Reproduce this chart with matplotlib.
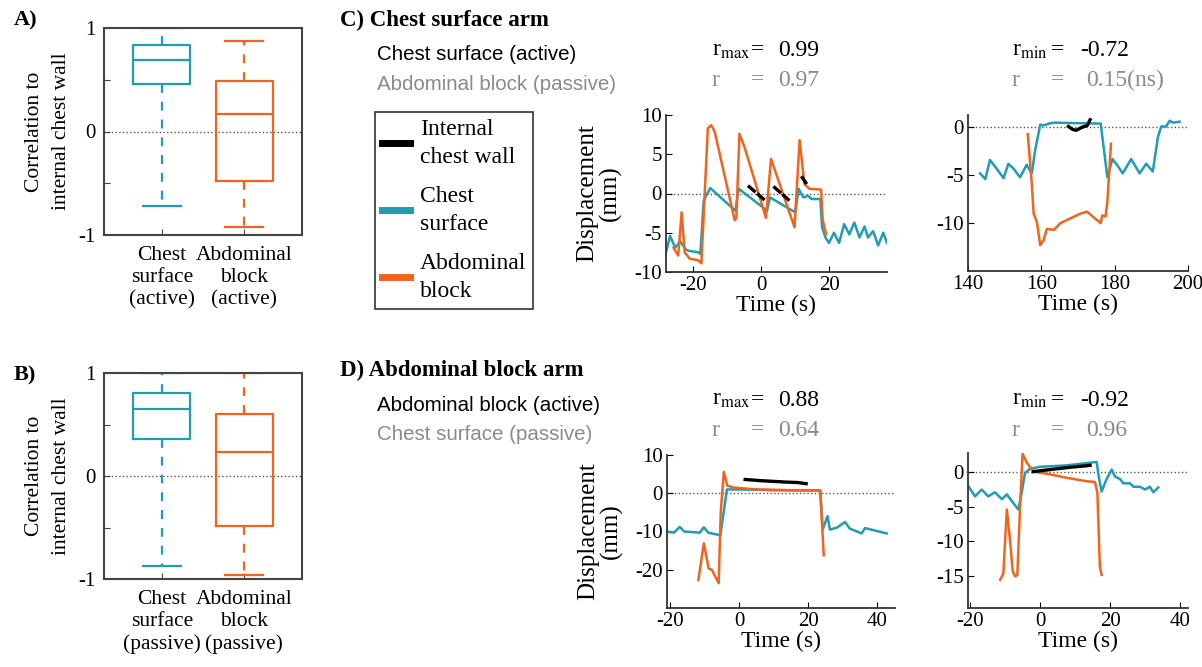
import numpy as np
import matplotlib
matplotlib.use("Agg")
import matplotlib.pyplot as plt
from matplotlib.lines import Line2D

plt.rcParams['font.family'] = ['Liberation Serif', 'DejaVu Serif']
plt.rcParams['mathtext.fontset'] = 'stix'
plt.rcParams['axes.unicode_minus'] = False

TEAL = '#1f9db2'
ORANGE = '#f2641e'
GRAY = '#8a8a8a'

# ---- box plot data (A: active, B: passive) ----
box_labels_a = ["Chest\nsurface\n(active)", "Abdominal\nblock\n(active)"]
box_labels_b = ["Chest\nsurface\n(passive)", "Abdominal\nblock\n(passive)"]
a_whislo = [-0.72, -0.92]
a_q1 = [0.46, -0.48]
a_med = [0.69, 0.165]
a_q3 = [0.84, 0.49]
a_whishi = [1.0, 0.87]
b_whislo = [-0.87, -0.96]
b_q1 = [0.36, -0.49]
b_med = [0.65, 0.23]
b_q3 = [0.81, 0.60]
b_whishi = [1.0, 1.0]

# ---- C) chest surface arm, left trace ----
c1_cyan_t = [-28, -26.8, -25.3, -23.8, -22.3, -21.3, -18.4, -17.9, -16.9, -15.0, -8.1, -7.6, -6.6,
             1.2, 1.7, 2.6, 10.0, 11.0, 12.4, 13.8, 14.8, 17.4, 17.9, 18.9, 19.9, 21.4, 22.9, 24.4,
             25.9, 27.4, 28.9, 30.4, 31.4, 32.9, 34.4, 35.9, 37.0]
c1_cyan_v = [-7.5, -5.4, -6.9, -6.1, -7.1, -7.3, -7.5, -7.7, -0.9, 0.7, -2.0, -2.2, 0.6,
             -2.0, -2.2, -0.5, -2.4, 0.6, -0.5, -0.3, -0.7, -0.7, -4.3, -5.6, -6.3, -5.0, -6.3, -3.9,
             -5.2, -3.7, -5.6, -4.2, -5.6, -4.8, -6.6, -5.0, -6.3]
c1_orange_t = [-25.8, -24.4, -23.4, -22.5, -21.0, -18.6, -17.6, -15.7, -14.7, -13.7, -7.8, -7.3,
               -6.4, -4.9, 1.4, 2.9, 9.8, 11.3, 12.7, 14.2, 17.6, 18.1, 19.1]
c1_orange_v = [-6.9, -7.9, -2.4, -7.5, -8.3, -8.5, -8.9, 8.3, 8.7, 7.9, -3.4, -3.1,
               7.6, 5.9, -3.1, 4.4, -4.3, 6.8, 1.2, 0.6, 0.5, -3.4, -5.2]
c1_black_t = [[-3.9, 1.2], [3.6, 8.3], [11.8, 13.4]]
c1_black_v = [[1.0, -0.9], [0.9, -0.9], [2.2, 1.2]]

# ---- C) chest surface arm, right trace ----
c2_cyan_t = [143.3, 144.7, 146.0, 147.8, 149.7, 151.0, 152.4, 154.2, 156.0, 157.4, 158.3, 159.7,
             160.6, 162.0, 163.4, 176.2, 178.0, 179.4, 180.8, 182.2, 184.5, 186.8, 188.6, 190.4,
             191.8, 192.7, 194.0, 195.0, 195.9, 197.7]
c2_cyan_v = [-4.8, -5.4, -3.4, -4.3, -5.3, -3.8, -4.3, -5.2, -3.9, -4.8, -2.4, 0.3,
             0.2, 0.4, 0.5, 0.4, -5.2, -3.3, -4.0, -4.8, -3.3, -4.8, -3.8, -4.6,
             -1.0, 0.1, 0.1, 0.7, 0.5, 0.6]
c2_orange_t = [156.3, 157.4, 157.9, 158.8, 159.7, 160.6, 161.5, 163.4, 165.2, 167.9, 170.7, 172.5,
               174.3, 176.2, 176.6, 177.5, 178.0, 179.0]
c2_orange_v = [-0.7, -5.9, -9.0, -9.9, -12.3, -11.8, -10.6, -10.7, -10.0, -9.5, -9.0, -8.8,
               -9.4, -10.0, -9.2, -9.3, -7.8, -1.7]
c2_black_t = [167.4, 168.5, 169.5, 171.0, 172.5, 173.3]
c2_black_v = [0.1, -0.2, -0.3, 0.0, 0.2, 0.8]

# ---- D) abdominal block arm, left trace ----
d1_cyan_t = [-21.0, -19.0, -17.3, -16.0, -11.5, -10.3, -9.0, -5.5, -3.6, 0.0, 10.0, 23.5, 24.2,
             25.6, 26.3, 28.3, 30.7, 32.0, 35.5, 36.5, 40.5, 42.8]
d1_cyan_v = [-10.0, -10.3, -8.8, -10.0, -10.3, -8.9, -10.3, -11.0, 1.0, 1.0, 0.8, 0.7, -9.5,
             -6.0, -9.5, -9.0, -7.5, -9.2, -10.5, -9.1, -10.0, -10.5]
d1_orange_t = [-11.9, -10.3, -8.9, -8.0, -6.0, -5.4, -4.5, -3.5, -1.7, 5.0, 15.0, 23.5, 24.5]
d1_orange_v = [-22.7, -13.1, -19.7, -20.0, -23.5, -5.0, 5.6, 2.0, 1.5, 1.0, 0.8, 0.8, -16.2]
d1_black_t = [1.7, 6.0, 10.0, 14.0, 17.0, 19.4]
d1_black_v = [3.6, 3.3, 3.1, 2.9, 2.8, 2.5]

# ---- D) abdominal block arm, right trace ----
d2_cyan_t = [-20.5, -18.6, -16.7, -14.8, -12.9, -10.9, -9.5, -7.6, -6.2, -5.2, -4.3, -2.9, 0.0,
             7.6, 16.2, 16.7, 17.6, 19.0, 20.5, 21.4, 22.9, 23.8, 25.7, 26.7, 28.6, 30.0, 31.4,
             32.4, 33.8]
d2_cyan_v = [-2.0, -3.5, -2.5, -3.5, -2.9, -3.9, -3.2, -4.5, -5.4, -2.8, -0.1, 0.5, 0.8,
             1.0, 1.5, -0.4, -2.8, -1.0, 0.4, -0.6, -1.0, -1.6, -1.6, -2.1, -2.1, -2.5, -2.1,
             -2.9, -2.2]
d2_orange_t = [-11.4, -10.5, -9.5, -8.6, -7.8, -7.1, -6.5, -5.7, -5.0, -3.8, -1.9, 2.9, 7.6,
               13.3, 15.7, 16.4, 17.1, 17.6]
d2_orange_v = [-15.6, -14.7, -5.4, -9.8, -14.4, -15.1, -14.9, -4.9, 2.7, 1.4, 0.1, -0.3, -0.8,
               -1.3, -1.4, -3.0, -13.7, -14.9]
d2_black_t = [-1.9, 3.0, 8.0, 14.3]
d2_black_v = [0.1, 0.4, 0.7, 1.0]

W, H = 1202, 667
fig = plt.figure(figsize=(W / 100, H / 100), dpi=100)


def box(l, t, r, b):
    return [l / W, 1 - b / H, (r - l) / W, (b - t) / H]


def pt(x, y):
    return x / W, 1 - y / H


def boxpanel(rect, labels, whislo, q1, med, q3, whishi):
    ax = fig.add_axes(rect)
    stats = []
    for i in range(2):
        stats.append(dict(whislo=whislo[i], q1=q1[i], med=med[i], q3=q3[i],
                          whishi=whishi[i], fliers=[]))
    parts = ax.bxp(stats, positions=[1, 2], widths=0.69, capwidths=0.46,
                   showfliers=False, patch_artist=False)
    for i, c in enumerate([TEAL, ORANGE]):
        parts['boxes'][i].set(color=c, linewidth=1.6)
        parts['medians'][i].set(color=c, linewidth=1.6)
        for w in parts['whiskers'][2 * i:2 * i + 2]:
            w.set(color=c, linewidth=1.6, linestyle=(0, (4, 4)))
        for cp in parts['caps'][2 * i:2 * i + 2]:
            cp.set(color=c, linewidth=1.6)
    ax.axhline(0, color='#555555', linestyle=':', linewidth=1, zorder=0)
    ax.set_xlim(0.3, 2.7)
    ax.set_ylim(-1, 1)
    ax.set_yticks([-1, -0.5, 0, 0.5, 1])
    ax.set_yticklabels(['-1', '', '0', '', '1'])
    ax.set_xticks([1, 2])
    ax.set_xticklabels(labels, linespacing=1.2)
    ax.tick_params(direction='in', labelsize=15, length=4, color='#444444', pad=6)
    ax.tick_params(axis='x', labelsize=15.5, pad=8)
    for s in ax.spines.values():
        s.set_color('#444444')
        s.set_linewidth(1.5)
    ax.set_ylabel("Correlation to\ninternal chest wall", fontsize=15.5, linespacing=1.6, labelpad=5)
    return ax


boxpanel(box(104, 28, 302, 235), box_labels_a, a_whislo, a_q1, a_med, a_q3, a_whishi)
boxpanel(box(104, 373, 302, 579), box_labels_b, b_whislo, b_q1, b_med, b_q3, b_whishi)


def timepanel(rect, xlim, ylim, yticks, xticks, ylabel=False):
    ax = fig.add_axes(rect)
    ax.set_xlim(*xlim)
    ax.set_ylim(*ylim)
    ax.set_yticks(yticks)
    ax.set_xticks(xticks)
    ax.spines['top'].set_visible(False)
    ax.spines['right'].set_visible(False)
    for s in ['left', 'bottom']:
        ax.spines[s].set_linewidth(1.3)
        ax.spines[s].set_color('#333333')
    ax.tick_params(direction='in', labelsize=15, length=4, pad=3)
    ax.axhline(0, color='#555555', linestyle=':', linewidth=1, zorder=0)
    ax.set_xlabel("Time (s)", fontsize=17, labelpad=0)
    if ylabel:
        ax.set_ylabel("Displacement\n(mm)", fontsize=18, linespacing=1.0, labelpad=9)
    return ax


lw = 1.8
ax = timepanel(box(666, 115, 887, 272), (-28, 37), (-10, 10), [-10, -5, 0, 5, 10], [-20, 0, 20], True)
ax.plot(c1_cyan_t, c1_cyan_v, color=TEAL, lw=lw)
ax.plot(c1_orange_t, c1_orange_v, color=ORANGE, lw=lw)
for bt, bv in zip(c1_black_t, c1_black_v):
    ax.plot(bt, bv, color='black', lw=2.4, linestyle=(0, (3, 0.6)))

ax = timepanel(box(968, 115, 1188, 271), (140, 200), (-15, 1.3), [-10, -5, 0], [140, 160, 180, 200])
ax.plot(c2_cyan_t, c2_cyan_v, color=TEAL, lw=lw)
ax.plot(c2_orange_t, c2_orange_v, color=ORANGE, lw=lw)
ax.plot(c2_black_t, c2_black_v, color='black', lw=2.4)

ax = timepanel(box(667, 455, 895, 608), (-21, 45.2), (-30, 10), [-20, -10, 0, 10], [-20, 0, 20, 40], True)
ax.plot(d1_cyan_t, d1_cyan_v, color=TEAL, lw=lw)
ax.plot(d1_orange_t, d1_orange_v, color=ORANGE, lw=lw)
ax.plot(d1_black_t, d1_black_v, color='black', lw=2.4)

ax = timepanel(box(968, 453, 1188, 608), (-20.6, 42.3), (-19.7, 2.8), [-15, -10, -5, 0], [-20, 0, 20, 40])
ax.plot(d2_cyan_t, d2_cyan_v, color=TEAL, lw=lw)
ax.plot(d2_orange_t, d2_orange_v, color=ORANGE, lw=lw)
ax.plot(d2_black_t, d2_black_v, color='black', lw=2.4)

# ---- panel labels and headers ----
fig.text(*pt(14, 20), "A)", fontsize=16, fontweight='bold', va='center')
fig.text(*pt(14, 375), "B)", fontsize=16, fontweight='bold', va='center')
fig.text(*pt(340, 20), "C) Chest surface arm", fontsize=16.5, fontweight='bold', va='center')
fig.text(*pt(340, 370), "D) Abdominal block arm", fontsize=16.5, fontweight='bold', va='center')

sans = ['Liberation Sans', 'DejaVu Sans']
fig.text(*pt(377, 55), "Chest surface (active)", fontsize=14.8, family=sans, va='center')
fig.text(*pt(377, 85), "Abdominal block (passive)", fontsize=14.8, family=sans, va='center', color=GRAY)
fig.text(*pt(377, 405), "Abdominal block (active)", fontsize=14.8, family=sans, va='center')
fig.text(*pt(377, 434), "Chest surface (passive)", fontsize=14.8, family=sans, va='center', color=GRAY)

# correlation values
r_rows = [
    (712, 50, r"r$_{\mathrm{max}}$", "0.99", 778, 'black'),
    (712, 80, "r", "0.97", 778, GRAY),
    (1012, 50, r"r$_{\mathrm{min}}$", "-0.72", 1080, 'black'),
    (1012, 80, "r", "0.15(ns)", 1086, GRAY),
    (712, 400, r"r$_{\mathrm{max}}$", "0.88", 778, 'black'),
    (712, 430, "r", "0.64", 778, GRAY),
    (1012, 400, r"r$_{\mathrm{min}}$", "-0.92", 1080, 'black'),
    (1012, 430, "r", "0.96", 1086, GRAY),
]
for x, y, lab, val, vx, c in r_rows:
    fig.text(*pt(x, y), lab, fontsize=17, va='center', color=c)
    fig.text(*pt(x + 45, y), "=", fontsize=17, va='center', ha='center', color=c)
    fig.text(*pt(vx, y), val, fontsize=17, va='center', color=c)

# legend
handles = [Line2D([], [], color='black', lw=5),
           Line2D([], [], color=TEAL, lw=5),
           Line2D([], [], color=ORANGE, lw=5)]
leg = fig.legend(handles, ["Internal\nchest wall", "Chest\nsurface", "Abdominal\nblock"],
                 loc='upper left', bbox_to_anchor=pt(375, 112), fontsize=17, frameon=True,
                 fancybox=False, edgecolor='black', handlelength=1.2, handletextpad=0.4,
                 labelspacing=0.75, borderpad=0.3, borderaxespad=0)
for t in leg.get_texts():
    t.set_linespacing(1.45)
leg.get_frame().set_linewidth(1.2)

fig.savefig("out.png", dpi=100)
